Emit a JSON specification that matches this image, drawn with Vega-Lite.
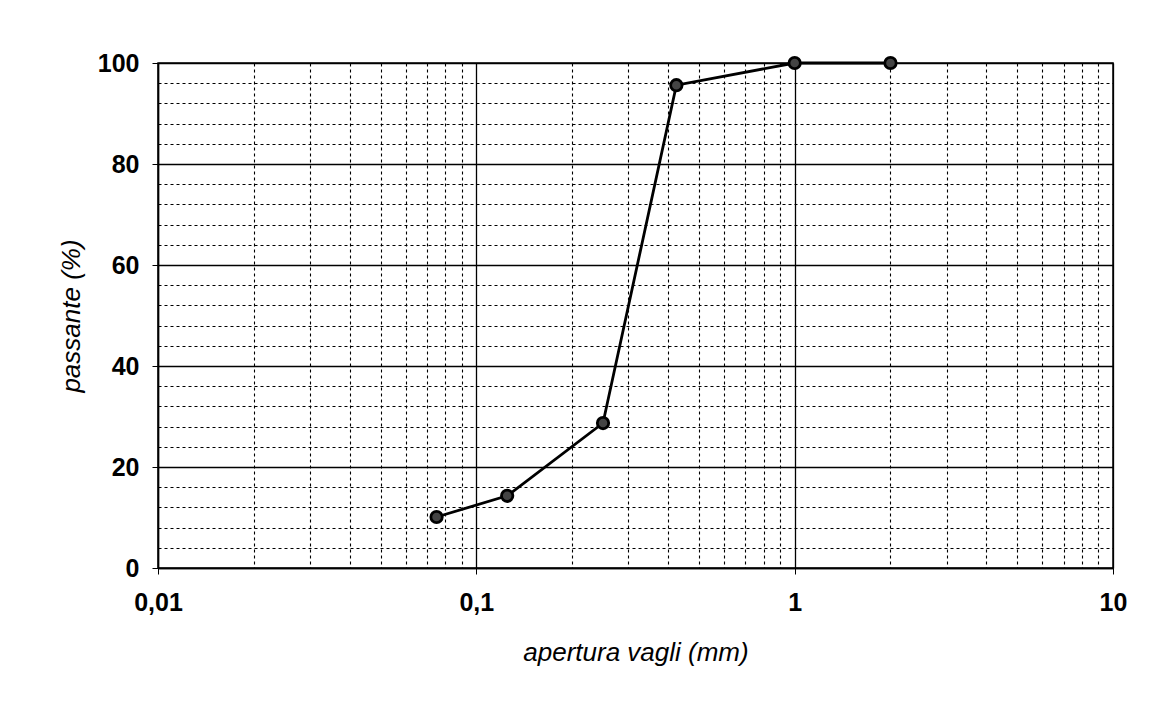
{
  "$schema": "https://vega.github.io/schema/vega-lite/v6.json",
  "width": 955,
  "height": 505,
  "autosize": {"type": "none"},
  "padding": {"left": 158, "top": 63, "right": 61, "bottom": 135},
  "background": "white",
  "config": {
    "font": "Liberation Sans",
    "view": {"stroke": "black", "strokeWidth": 1.5}
  },
  "data": {
    "values": [
      {"apertura": 0.075, "passante": 10.1},
      {"apertura": 0.125, "passante": 14.3},
      {"apertura": 0.25, "passante": 28.7},
      {"apertura": 0.425, "passante": 95.6},
      {"apertura": 1, "passante": 100},
      {"apertura": 2, "passante": 100}
    ]
  },
  "encoding": {
    "x": {
      "field": "apertura",
      "type": "quantitative",
      "scale": {"type": "log", "domain": [0.01, 10], "nice": false},
      "axis": {
        "title": "apertura vagli (mm)",
        "titleFont": "Liberation Sans",
        "titleFontStyle": "italic",
        "titleFontWeight": "normal",
        "titleFontSize": 26,
        "titleColor": "black",
        "titlePadding": 24,
        "values": [0.01,0.02,0.03,0.04,0.05,0.06,0.07,0.08,0.09,0.1,0.2,0.3,0.4,0.5,0.6,0.7,0.8,0.9,1,2,3,4,5,6,7,8,9,10],
        "labelExpr": "indexof([0.01,0.1,1,10], datum.value) >= 0 ? replace(toString(datum.value), '.', ',') : ''",
        "labelOverlap": false,
        "labelFontSize": 25,
        "labelFontWeight": "bold",
        "labelColor": "black",
        "labelPadding": 16,
        "labelFlush": false,
        "domain": true,
        "domainColor": "black",
        "domainWidth": 1.5,
        "ticks": true,
        "tickColor": "black",
        "tickSize": 6,
        "tickOpacity": {"condition": {"test": "indexof([0.01,0.1,1,10], datum.value) >= 0", "value": 1}, "value": 0},
        "grid": true,
        "gridColor": "black",
        "gridOpacity": 1,
        "gridWidth": {"condition": {"test": "indexof([0.01,0.1,1,10], datum.value) >= 0", "value": 1.3}, "value": 1.1},
        "gridDash": {"condition": {"test": "indexof([0.01,0.1,1,10], datum.value) >= 0", "value": []}, "value": [3, 3]}
      }
    },
    "y": {
      "field": "passante",
      "type": "quantitative",
      "scale": {"domain": [0, 100], "nice": false},
      "axis": {
        "title": "passante (%)",
        "titleFont": "Liberation Sans",
        "titleFontStyle": "italic",
        "titleFontWeight": "normal",
        "titleFontSize": 26,
        "titleColor": "black",
        "titlePadding": 13,
        "values": [0,4,8,12,16,20,24,28,32,36,40,44,48,52,56,60,64,68,72,76,80,84,88,92,96,100],
        "labelExpr": "datum.value % 20 == 0 ? toString(datum.value) : ''",
        "labelOverlap": false,
        "labelFontSize": 25,
        "labelFontWeight": "bold",
        "labelColor": "black",
        "labelPadding": 13,
        "labelFlush": false,
        "domainColor": "black",
        "domainWidth": 1.5,
        "tickColor": "black",
        "tickSize": 6,
        "tickOpacity": {"condition": {"test": "datum.value % 20 == 0", "value": 1}, "value": 0},
        "grid": true,
        "gridColor": "black",
        "gridOpacity": 1,
        "gridWidth": {"condition": {"test": "datum.value % 20 == 0", "value": 1.3}, "value": 1.1},
        "gridDash": {"condition": {"test": "datum.value % 20 == 0", "value": []}, "value": [3, 3]}
      }
    }
  },
  "layer": [
    {"mark": {"type": "line", "color": "black", "strokeWidth": 2.8}},
    {"mark": {"type": "point", "shape": "circle", "filled": true, "size": 130, "fill": "#444444", "stroke": "black", "strokeWidth": 2.8, "opacity": 1}}
  ]
}
